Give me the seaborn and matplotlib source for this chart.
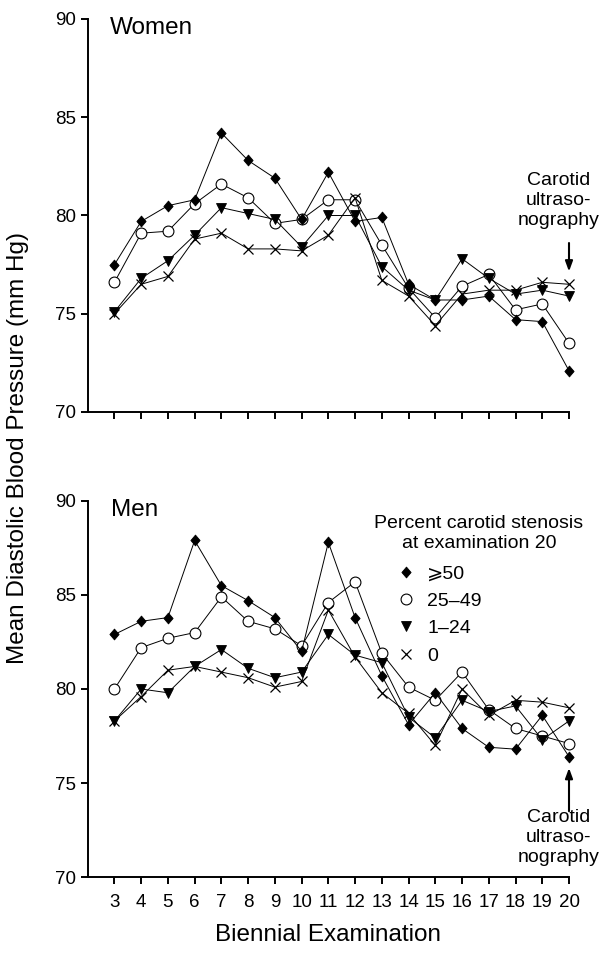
import matplotlib
matplotlib.use("Agg")
import matplotlib.pyplot as plt
import seaborn as sns
from matplotlib.lines import Line2D
from matplotlib.path import Path

# ---------------- data ----------------
exams = list(range(3, 21))
group_labels = ["⩾50", "25–49", "1–24", "0"]

women_ge50 = [77.5, 79.7, 80.5, 80.8, 84.2, 82.8, 81.9, 79.8, 82.2, 79.7, 79.9, 76.5, 75.7, 75.7, 75.9, 74.7, 74.6, 72.1]
women_25_49 = [76.6, 79.1, 79.2, 80.6, 81.6, 80.9, 79.6, 79.8, 80.8, 80.8, 78.5, 76.3, 74.8, 76.4, 77.0, 75.2, 75.5, 73.5]
women_1_24 = [75.1, 76.8, 77.7, 79.0, 80.4, 80.1, 79.8, 78.4, 80.0, 80.0, 77.4, 76.2, 75.7, 77.8, 76.8, 76.0, 76.2, 75.9]
women_0 = [75.0, 76.5, 76.9, 78.8, 79.1, 78.3, 78.3, 78.2, 79.0, 80.9, 76.7, 75.9, 74.4, 76.0, 76.2, 76.2, 76.6, 76.5]

men_ge50 = [82.9, 83.6, 83.8, 87.9, 85.5, 84.7, 83.8, 82.0, 87.8, 83.8, 80.7, 78.1, 79.8, 77.9, 76.9, 76.8, 78.6, 76.4]
men_25_49 = [80.0, 82.2, 82.7, 83.0, 84.9, 83.6, 83.2, 82.3, 84.6, 85.7, 81.9, 80.1, 79.4, 80.9, 78.9, 77.9, 77.5, 77.1]
men_1_24 = [78.3, 80.0, 79.8, 81.2, 82.1, 81.1, 80.6, 80.9, 82.9, 81.8, 81.4, 78.5, 77.4, 79.4, 78.8, 79.1, 77.3, 78.3]
men_0 = [78.3, 79.6, 81.0, 81.2, 80.9, 80.6, 80.1, 80.4, 84.2, 81.7, 79.8, 78.7, 77.0, 80.0, 78.6, 79.4, 79.3, 79.0]

y_ticks = [70, 75, 80, 85, 90]
panel_titles = ["Women", "Men"]
y_label = "Mean Diastolic Blood Pressure (mm Hg)"
x_label = "Biennial Examination"
legend_title = "Percent carotid stenosis\nat examination 20"
note_text = "Carotid\nultraso-\nnography"

# ---------------- style ----------------
sns.set_style("ticks")
plt.rcParams["font.family"] = ["Liberation Sans", "DejaVu Sans"]
plt.rcParams["axes.linewidth"] = 1.4
plt.rcParams["text.color"] = "black"
plt.rcParams["axes.labelcolor"] = "black"
plt.rcParams["axes.edgecolor"] = "black"
plt.rcParams["xtick.color"] = "black"
plt.rcParams["ytick.color"] = "black"

diamond = Path([(0, 1), (0.85, 0), (0, -1), (-0.85, 0), (0, 1)],
               [Path.MOVETO, Path.LINETO, Path.LINETO, Path.LINETO, Path.CLOSEPOLY])

styles = {
    "⩾50": dict(marker=diamond, ms=7.8, mfc="black", mec="black", mew=0.6, zorder=6),
    "25–49": dict(marker="o", ms=7.8, mfc="white", mec="black", mew=0.8, zorder=3),
    "1–24": dict(marker="v", ms=6.8, mfc="black", mec="black", mew=0.6, zorder=5),
    "0": dict(marker="x", ms=7.5, mfc="black", mec="black", mew=0.9, zorder=4),
}

W, H = 600, 956
fig = plt.figure(figsize=(W / 100, H / 100), dpi=100)
ax1 = fig.add_axes([87.7 / W, (H - 412) / H, 481.3 / W, 393 / H])
ax2 = fig.add_axes([87.7 / W, (H - 877) / H, 481.3 / W, 376 / H])

panels = [
    (ax1, [women_ge50, women_25_49, women_1_24, women_0]),
    (ax2, [men_ge50, men_25_49, men_1_24, men_0]),
]

draw_order = ["25–49", "0", "1–24", "⩾50"]
for ax, series in panels:
    data = dict(zip(group_labels, series))
    for g in draw_order:
        st = styles[g]
        sns.lineplot(x=exams, y=data[g], ax=ax, color="black", lw=0.7,
                     marker=st["marker"], ms=st["ms"], mfc=st["mfc"],
                     mec=st["mec"], mew=st["mew"], zorder=st["zorder"],
                     clip_on=False)
    ax.set_xlim(2, 20)
    ax.set_ylim(70, 90)
    ax.set_xticks(exams)
    ax.set_yticks(y_ticks)
    ax.tick_params(axis="both", direction="out", length=5, width=1.4,
                   labelsize=13.5, colors="black")
    ax.tick_params(axis="x", pad=7)
    sns.despine(ax=ax)
    ax.set_xlabel("")
    ax.set_ylabel("")

ax1.tick_params(labelbottom=False)
ax2.set_xticklabels([str(e) for e in exams])

ax1.text(2.83, 90.1, panel_titles[0], ha="left", va="top", fontsize=17.5)
ax2.text(2.88, 90.1, panel_titles[1], ha="left", va="top", fontsize=17.5)

# annotations
ax1.text(19.6, 80.75, note_text, ha="center", va="center", fontsize=14,
         linespacing=1.22, clip_on=False)
ax1.annotate("", xy=(20, 77.15), xytext=(20, 78.6),
             arrowprops=dict(arrowstyle="-|>,head_width=0.22,head_length=0.6",
                             color="black", lw=1.5, shrinkA=0, shrinkB=0))
ax2.text(19.6, 72.1, note_text, ha="center", va="center", fontsize=14,
         linespacing=1.22, clip_on=False)
ax2.annotate("", xy=(20, 75.8), xytext=(20, 73.5),
             arrowprops=dict(arrowstyle="-|>,head_width=0.22,head_length=0.6",
                             color="black", lw=1.5, shrinkA=0, shrinkB=0))

# legend
handles = []
for g in group_labels:
    st = styles[g]
    handles.append(Line2D([], [], ls="none", marker=st["marker"], ms=st["ms"],
                          mfc=st["mfc"], mec=st["mec"], mew=st["mew"]))
fig.text(479 / W, 1 - 533.5 / H, legend_title, ha="center", va="center",
         fontsize=14, linespacing=1.2)
ax2.legend(handles, group_labels, loc="upper left",
           bbox_to_anchor=(396 / W, 1 - 565 / H), bbox_transform=fig.transFigure,
           frameon=False, fontsize=14, handlelength=1.0, handletextpad=0.6,
           labelspacing=0.5, borderpad=0, borderaxespad=0)

fig.text(18 / W, 1 - 448 / H, y_label, rotation=90, ha="center", va="center",
         fontsize=17.5)
fig.text(328.4 / W, 1 - 935 / H, x_label, ha="center", va="center", fontsize=17.5)

fig.savefig("out.png", dpi=100)
